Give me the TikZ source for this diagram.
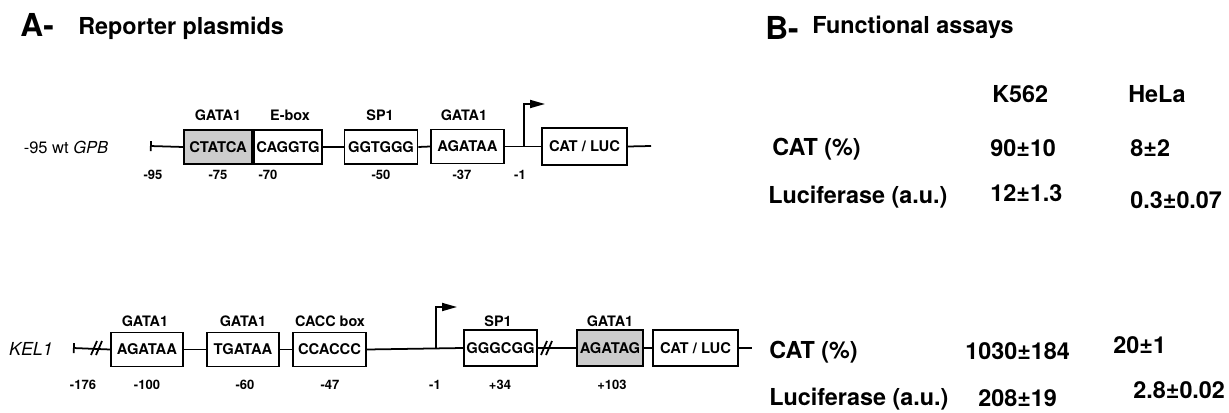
\documentclass[tikz,border=0pt]{standalone}
\usepackage{fontspec}
\setmainfont{TeX Gyre Heros}
\usepackage{tikz}
\usetikzlibrary{arrows.meta,positioning}
\tikzset{
  site/.style={draw,line width=1pt,font=\bfseries\fontsize{8.4}{9}\selectfont,inner sep=0pt,minimum height=0.68cm,minimum width=1.44cm},
  gsite/.style={site,fill=gray!40},
  fac/.style={font=\bfseries\fontsize{8.2}{9}\selectfont,anchor=base,inner sep=0pt},
  coord/.style={font=\bfseries\fontsize{7.4}{8}\selectfont,anchor=base,inner sep=0pt},
  dna/.style={line width=1pt},
  tick/.style={line width=1pt,{Bar[width=2mm]}-},
  brk/.style={line width=1pt},
  tss/.style={line width=1pt,-{Triangle[length=3mm,width=1.6mm]}},
  hd/.style={font=\bfseries\fontsize{13.3}{16}\selectfont,anchor=base west,inner sep=0pt},
  big/.style={font=\bfseries\fontsize{18}{20}\selectfont,anchor=base west,inner sep=0pt}
}
\begin{document}
\begin{tikzpicture}[x=0.02cm,y=-0.02cm,
 gene/.style={font=\fontsize{9.4}{11}\selectfont,anchor=base,inner sep=0pt},
 val/.style={font=\bfseries\fontsize{13.3}{16}\selectfont,anchor=base west,inner sep=0pt}]
\useasboundingbox (0,0) rectangle (1229,412);
\node[big] (A) at (20,37) {A-};
\node[hd] (Atit) at (78,35) {Reporter plasmids};
\node[big] (B) at (765,40) {B-};
\node[hd] (Btit) at (812,34) {Functional assays};
\node[gene] (gpb) at (66,153) {-95 wt \textit{GPB}};
\node[gsite,minimum width=1.36cm] (g1) at (218,147) {CTATCA};
\node[site,minimum width=1.36cm] (eb) at (288,147) {CAGGTG};
\node[site,minimum width=1.46cm] (sp) at (381,147) {GGTGGG};
\node[site,minimum width=1.46cm] (ga) at (467.5,146.5) {AGATAA};
\node[site,minimum width=1.7cm,minimum height=0.74cm] (cat) at (584.5,146.5) {CAT / LUC};
\coordinate (t0) at (150,146);
\coordinate (e0) at (651,146);
\coordinate (p0) at (524,146);
\draw[tick] (t0) -- (g1.west);
\draw[dna] (g1.east) -- (eb.west);
\draw[dna] (eb.east) -- (sp.west);
\draw[dna] (sp.east) -- (ga.west);
\draw[dna] (ga.east) -- (cat.west);
\draw[dna] (cat.east) -- (e0);
\draw[tss] (p0) -- ++(0,-42) -- ++(21,0);
\node[fac] (f1) at (218,120) {GATA1};
\node[fac] (f2) at (290,120) {E-box};
\node[fac] (f3) at (380,120) {SP1};
\node[fac] (f4) at (464,120) {GATA1};
\foreach \x/\t in {153/-95,218/-75,268/-70,381/-50,462/-37,520/-1}
  \node[coord] (n\x) at (\x,179) {\t};
\node[gene,font=\itshape\fontsize{10.2}{12}\selectfont] (kel) at (31,355) {KEL1};
\node[site] (a1) at (147,349.5) {AGATAA};
\node[site] (a2) at (243,349.5) {TGATAA};
\node[site,minimum width=1.46cm] (cc) at (329.5,349.5) {CCACCC};
\node[site,minimum width=1.46cm,minimum height=0.72cm] (sp2) at (500.5,348) {GGGCGG};
\node[gsite,minimum width=1.32cm,minimum height=0.72cm] (g2) at (610,348) {AGATAG};
\node[site,minimum width=1.7cm,minimum height=0.72cm] (cat2) at (695.5,348) {CAT / LUC};
\coordinate (t1) at (73,348);
\coordinate (e1) at (752,348);
\coordinate (p1) at (436,348);
\draw[tick] (t1) -- (a1.west);
\draw[dna] (a1.east) -- (a2.west);
\draw[dna] (a2.east) -- (cc.west);
\draw[dna] (cc.east) -- (sp2.west);
\draw[dna] (sp2.east) -- (g2.west);
\draw[dna] (g2.east) -- (cat2.west);
\draw[dna] (cat2.east) -- (e1);
\draw[brk] (91,355) -- (97,341) (96,355) -- (102,341);
\draw[brk] (541,355) -- (547,341) (546,355) -- (552,341);
\draw[tss] (p1) -- ++(0,-41) -- ++(21,0);
\node[fac] (k1) at (145,326) {GATA1};
\node[fac] (k2) at (243,326) {GATA1};
\node[fac] (k3) at (330,326) {CACC box};
\node[fac] (k4) at (498,326) {SP1};
\node[fac] (k5) at (610,326) {GATA1};
\foreach \x/\t in {83/-176,147/-100,245/-60,330/-47,435/-1,500/+34,612/+103}
  \node[coord] (m\x) at (\x,389) {\t};
\node[val] (k562) at (992,102) {K562};
\node[val] (hela) at (1128,102) {HeLa};
\node[val] (cat1l) at (772,155) {CAT (\%)};
\node[val] (luc1l) at (768,203) {Luciferase (a.u.)};
\node[val] (c1a) at (990,156) {90±10};
\node[val] (c1b) at (1130,156) {8±2};
\node[val] (l1a) at (990,201) {12±1.3};
\node[val] (l1b) at (1130,208) {0.3±0.07};
\node[val] (cat2l) at (769,358) {CAT (\%)};
\node[val] (luc2l) at (769,405) {Luciferase (a.u.)};
\node[val] (c2a) at (965,359) {1030±184};
\node[val] (c2b) at (1113,353) {20±1};
\node[val] (l2a) at (978,406) {208±19};
\node[val] (l2b) at (1133,398) {2.8±0.02};
\end{tikzpicture}
\end{document}
